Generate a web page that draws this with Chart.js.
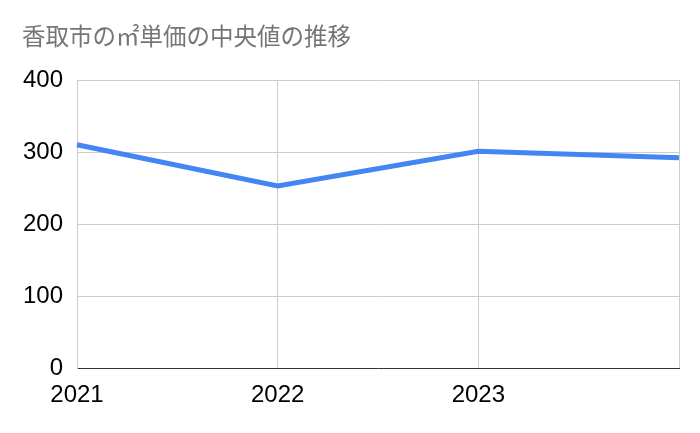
<!DOCTYPE html>
<html>
<head>
<meta charset="utf-8">
<script src="https://cdn.jsdelivr.net/npm/chart.js@4/dist/chart.umd.min.js"></script>
<style>
html,body{margin:0;padding:0;background:#fff;}
#wrap{width:700px;height:433px;}
</style>
</head>
<body>
<div id="wrap"><canvas id="c" width="700" height="433"></canvas></div>
<script>
const titleText = '香取市の㎡単価の中央値の推移';
const years = ['2021', '2022', '2023', '2024'];
const medianPrice = [310, 253, 301, 292];
const yTicks = [0, 100, 200, 300, 400];
const shownYearLabels = ['2021', '2022', '2023'];

new Chart(document.getElementById('c'), {
  type: 'line',
  data: {
    labels: years,
    datasets: [{
      data: medianPrice,
      borderColor: '#4285F4',
      borderWidth: 5,
      pointRadius: 0,
      tension: 0,
      fill: false
    }]
  },
  options: {
    responsive: false,
    animation: false,
    layout: { padding: { left: 22, right: 21, top: 0, bottom: 0 } },
    plugins: {
      legend: { display: false },
      tooltip: { enabled: false },
      title: {
        display: true,
        text: titleText,
        align: 'start',
        color: '#757575',
        font: { family: '"Noto Sans CJK JP", "Noto Sans", sans-serif', size: 23.5, weight: 'normal' },
        padding: { top: 22, bottom: 29.8 }
      }
    },
    scales: {
      x: {
        offset: false,
        grid: { color: '#cccccc', drawTicks: false },
        border: { color: '#333333', width: 1 },
        ticks: {
          autoSkip: false,
          maxRotation: 0,
          padding: 13,
          color: '#000000',
          font: { family: '"Liberation Sans", Arial, sans-serif', size: 24 },
          callback: function(v, i) { return shownYearLabels.includes(years[i]) ? years[i] : ''; }
        },
        afterFit: function(s) { s.height = 65; }
      },
      y: {
        min: 0,
        max: 400,
        afterBuildTicks: function(s) { s.ticks = yTicks.map(v => ({ value: v })); },
        grid: { color: '#cccccc', drawTicks: false },
        border: { color: '#cccccc', width: 1 },
        ticks: {
          padding: 14,
          color: '#000000',
          font: { family: '"Liberation Sans", Arial, sans-serif', size: 24 }
        },
        afterFit: function(s) { s.width = 55; }
      }
    }
  }
});
</script>
</body>
</html>
